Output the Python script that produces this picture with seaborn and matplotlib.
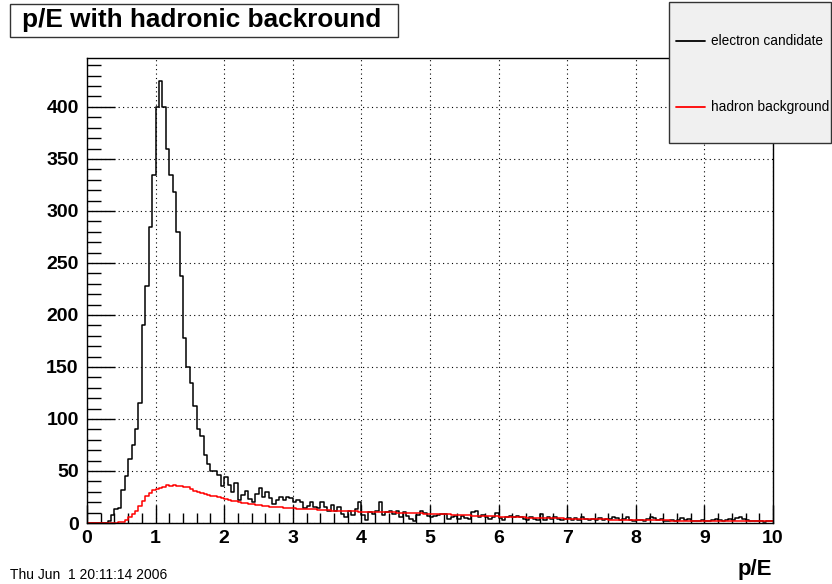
import numpy as np
import pandas as pd
import matplotlib
matplotlib.use("Agg")
import matplotlib.pyplot as plt
import seaborn as sns
from matplotlib.patches import Rectangle
from matplotlib.lines import Line2D

# ---- data (200 bins of width 0.05 over p/E = 0..10) ----
x_min, x_max, n_bins = 0.0, 10.0, 200

electron = [
    0, 0, 0, 0, 0, 0, 2, 8, 13, 14,
    32, 45, 62, 75, 90, 115, 190, 228, 285, 335,
    400, 425, 400, 360, 335, 318, 280, 237, 178, 150,
    135, 112, 90, 84, 65, 57, 50, 50, 46, 36,
    44, 37, 30, 38, 22, 27, 31, 23, 20, 28,
    34, 25, 30, 24, 18, 22, 25, 22, 25, 24,
    20, 22, 20, 14, 16, 20, 15, 14, 20, 15,
    12, 17, 12, 15, 9, 6, 12, 8, 13, 20,
    8, 3, 11, 9, 12, 20, 8, 11, 12, 9,
    12, 6, 11, 7, 4, 2, 8, 12, 10, 7,
    6, 7, 8, 9, 9, 4, 6, 7, 4, 7,
    5, 4, 11, 12, 6, 8, 6, 4, 6, 10,
    5, 3, 6, 7, 6, 7, 6, 4, 3, 6,
    4, 3, 9, 3, 6, 4, 6, 4, 3, 4,
    5, 3, 5, 3, 6, 4, 3, 3.5, 3, 5,
    3, 4, 4, 6, 5, 3, 4, 6, 3, 2,
    3, 3, 2, 4, 6, 5, 3, 4, 2, 2,
    3, 2, 3, 5, 3, 4, 2, 2, 2, 3,
    2, 2, 3, 4, 3, 2, 3, 4, 3, 5,
    6, 4, 3, 2, 2, 2, 2, 1, 2, 2,
]

hadron = [
    0, 0, 0, 0, 0, 0, 0, 0, 0, 0.5,
    1, 3, 6, 9, 12, 16, 21, 26, 29, 32,
    33, 34, 35, 37, 36, 37, 36, 36, 35, 35,
    33, 31, 30, 29, 28, 27, 26, 25.5, 25, 24,
    23, 22, 21.5, 21, 20, 19.5, 19, 18.5, 18, 17.5,
    17, 16.5, 16, 15.5, 15.5, 15, 15, 14.5, 14, 14,
    14, 13.5, 13.5, 13, 13, 13, 13, 12.5, 12.5, 12.5,
    12.5, 12, 12, 12, 12, 11.5, 11.5, 11.5, 11.5, 11,
    11, 11, 11, 11, 10.5, 10.5, 10.5, 10.5, 10.5, 10.5,
    10, 10, 10, 10, 9.5, 9.5, 9.5, 9.5, 9, 9,
    9, 9, 9, 8.5, 8.5, 8.5, 8, 8, 8, 7.5,
    7.5, 7.5, 7, 7, 7, 7, 6.5, 6.5, 6.5, 6.5,
    6, 6, 6, 6, 5.5, 5.5, 5.5, 5.5, 5, 5,
    5, 5, 5, 5, 4.5, 4.5, 4.5, 4.5, 4.5, 4,
    4, 4, 4, 4, 4, 4, 3.5, 3.5, 3.5, 3.5,
    3.5, 3.5, 3, 3, 3, 3, 3, 3, 3, 3,
    2.5, 2.5, 2.5, 2.5, 2.5, 2.5, 2.5, 2.5, 2.5, 2.5,
    2, 2, 2, 2, 2, 2, 2, 2, 2, 2,
    2, 2, 2, 2, 2, 2, 2, 2, 2, 2,
    1.5, 1.5, 1.5, 1.5, 1.5, 1.5, 1.5, 1.5, 1.5, 1.5,
]

title = "p/E with hadronic backround"
xlabel = "p/E"
series_names = ["electron candidate", "hadron background"]
date_text = "Thu Jun  1 20:11:14 2006"
y_ticks = [0, 50, 100, 150, 200, 250, 300, 350, 400]
x_ticks = [0, 1, 2, 3, 4, 5, 6, 7, 8, 9, 10]

# ---- build tidy frame ----
edges = np.linspace(x_min, x_max, n_bins + 1)
centers = 0.5 * (edges[:-1] + edges[1:])
df = pd.DataFrame({
    "pE": np.concatenate([centers, centers]),
    "count": np.concatenate([np.asarray(electron, float), np.asarray(hadron, float)]),
    "sample": [series_names[0]] * n_bins + [series_names[1]] * n_bins,
})

sns.set_style("white")
plt.rcParams["font.family"] = ["Liberation Sans", "DejaVu Sans"]
plt.rcParams["text.color"] = "black"
plt.rcParams["xtick.color"] = "black"
plt.rcParams["ytick.color"] = "black"

fig = plt.figure(figsize=(8.32, 5.84), dpi=100)
ax = fig.add_axes([87 / 832, 1 - 523 / 584, (773 - 87) / 832, (523 - 58) / 584])

colors = {series_names[0]: "black", series_names[1]: "red"}
for name in series_names:
    sub = df[df["sample"] == name].reset_index(drop=True)
    sns.histplot(data=sub, x="pE", weights="count", bins=n_bins,
                 binrange=(x_min, x_max),
                 element="step", fill=False, color=colors[name],
                 linewidth=1.1, ax=ax)

ax.set_xlim(x_min, x_max)
ax.set_ylim(0, 447)
ax.set_xlabel("")
ax.set_ylabel("")

ax.set_xticks(x_ticks)
ax.set_yticks(y_ticks)
ax.set_xticks(np.arange(0, 10.01, 0.2), minor=True)
ax.set_yticks(np.arange(0, 441, 10), minor=True)
ax.tick_params(axis="both", which="both", direction="in",
               left=True, bottom=True, top=False, right=False,
               colors="black", width=1)
ax.tick_params(axis="y", which="major", length=20, pad=6)
ax.tick_params(axis="y", which="minor", length=10)
ax.tick_params(axis="x", which="major", length=13, pad=5)
ax.tick_params(axis="x", which="minor", length=7)
for lab in ax.get_xticklabels() + ax.get_yticklabels():
    lab.set_fontsize(14)
    lab.set_fontweight("bold")
    lab.set_color("black")

ax.grid(True, which="major", color="black", linestyle=(0, (1, 3)), linewidth=0.8)
for s in ax.spines.values():
    s.set_color("black")
    s.set_linewidth(1)

# title box
fig.patches.append(Rectangle((10 / 832, 1 - 37 / 584), (398 - 10) / 832,
                             (37 - 4) / 584, transform=fig.transFigure,
                             facecolor="white", edgecolor="#333333",
                             linewidth=1, zorder=5))
fig.text(202 / 832, 1 - 20.5 / 584, title, ha="center", va="center",
         fontsize=18.8, fontweight="bold", color="black", zorder=6)

# x label and date
fig.text(772 / 832, 1 - 569 / 584, xlabel, ha="right", va="center",
         fontsize=16, fontweight="bold", color="black")
fig.text(10 / 832, 1 - 575 / 584, date_text, ha="left", va="center",
         fontsize=10, color="black")

# legend box (ROOT style)
fig.patches.append(Rectangle((669 / 832, 1 - 143 / 584), (831 - 669) / 832,
                             (143 - 2) / 584, transform=fig.transFigure,
                             facecolor="#f0f0f0", edgecolor="#333333",
                             linewidth=1, zorder=5))
for yy, name in zip([41, 107], series_names):
    fig.lines.append(Line2D([676 / 832, 705 / 832], [1 - yy / 584] * 2,
                            transform=fig.transFigure, color=colors[name],
                            linewidth=1.3, zorder=6))
    fig.text(711 / 832, 1 - yy / 584, name, ha="left", va="center",
             fontsize=9.8, color="black", zorder=7)

fig.savefig("out.png", dpi=100)
